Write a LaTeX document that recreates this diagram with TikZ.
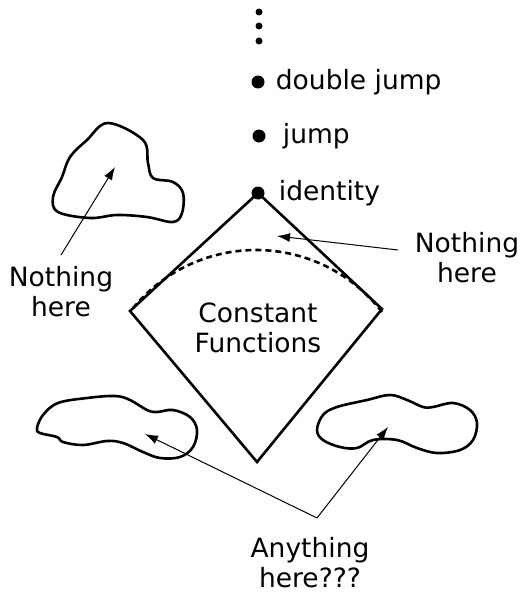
\documentclass[tikz,border=0pt]{standalone}
\usepackage{fontspec}
\setmainfont{DejaVu Sans}
\usetikzlibrary{arrows.meta,positioning}

\tikzset{
  lbl/.style = {font=\fontsize{26.5}{30}\selectfont, align=center, inner sep=0pt},
  bigdot/.style = {circle, fill=black, inner sep=0pt, minimum size=13pt},
  smalldot/.style = {circle, fill=black, inner sep=0pt, minimum size=7pt},
  blobline/.style = {line width=2.6pt, line join=round},
  pointer/.style = {-{Latex[length=13pt,width=9pt]}, line width=1pt},
  edgeline/.style = {line width=2.6pt, line join=miter},
  arcline/.style = {line width=2.6pt, dash pattern=on 6pt off 4pt},
}

\begin{document}
\begin{tikzpicture}[x=1pt, y=-1pt]
  \useasboundingbox (0,0) rectangle (522,594);

  % corners of the diamond
  \coordinate (top) at (258,193);
  \coordinate (lc)  at (130,311);
  \coordinate (rc)  at (382,309);
  \coordinate (bot) at (257,462);
  \draw[edgeline] (top) -- (lc) -- (bot) -- (rc) -- cycle;

  % dashed arc inside the diamond
  \draw[arcline] plot[domain=37.6:142.4, samples=40, smooth]
    ({256+159*cos(\x)},{409-159*sin(\x)});

  \node[lbl] (const) at (258,328) {Constant\\Functions};

  % ellipsis on top
  \foreach \y [count=\i] in {12,26,41}
    \node[smalldot] (vd\i) at (259,\y) {};

  % the chain of elements
  \node[bigdot] (dj) at (258,82) {};
  \node[bigdot] (jp) at (259,136) {};
  \node[bigdot] (id) at (top) {};
  \node[lbl, right=11pt of dj] (djlbl) {double jump};
  \node[lbl, right=17pt of jp] (jplbl) {jump};
  \node[lbl, right=14pt of id] (idlbl) {identity};

  % blobs
  \draw[blobline] plot[smooth cycle, tension=0.6] coordinates {
    (108,123) (143,140) (148,163) (153,178) (173,182) (183,193) (182,213)
    (173,222) (147,217) (117,215) (90,218) (58,212) (53,197) (62,177)
    (70,157) (87,140)};
  \draw[blobline] plot[smooth cycle, tension=0.6] coordinates {
    (37,428) (43,415) (58,403) (87,398) (115,396) (130,400) (147,410)
    (157,412) (173,410) (190,417) (197,430) (193,447) (180,457) (160,458)
    (143,452) (123,443) (107,441) (83,445) (63,442) (57,437) (40,433)};
  \draw[blobline] plot[smooth cycle, tension=0.6] coordinates {
    (317,430) (323,415) (337,407) (367,400) (390,395) (407,400) (423,407)
    (433,407) (453,403) (470,410) (477,423) (473,440) (460,450) (437,453)
    (417,448) (397,440) (373,440) (357,448) (340,447) (323,440)};

  % labels
  \node[lbl] (lnothing) at (61,292) {Nothing\\here};
  \node[lbl] (rnothing) at (467,258) {Nothing\\here};
  \node[lbl] (anything) at (310,563) {Anything\\here???};

  % pointer ends
  \coordinate (ltail) at (61,255);
  \coordinate (ltip)  at (115,167);
  \coordinate (rtail) at (398,250);
  \coordinate (rtip)  at (277,236);
  \coordinate (atail) at (317,518);
  \coordinate (atipl) at (145,434);
  \coordinate (atipr) at (388,427);

  % pointers
  \draw[pointer] (ltail) -- (ltip);
  \draw[pointer] (rtail) -- (rtip);
  \draw[pointer] (atail) -- (atipl);
  \draw[pointer] (atail) -- (atipr);

\end{tikzpicture}
\end{document}
